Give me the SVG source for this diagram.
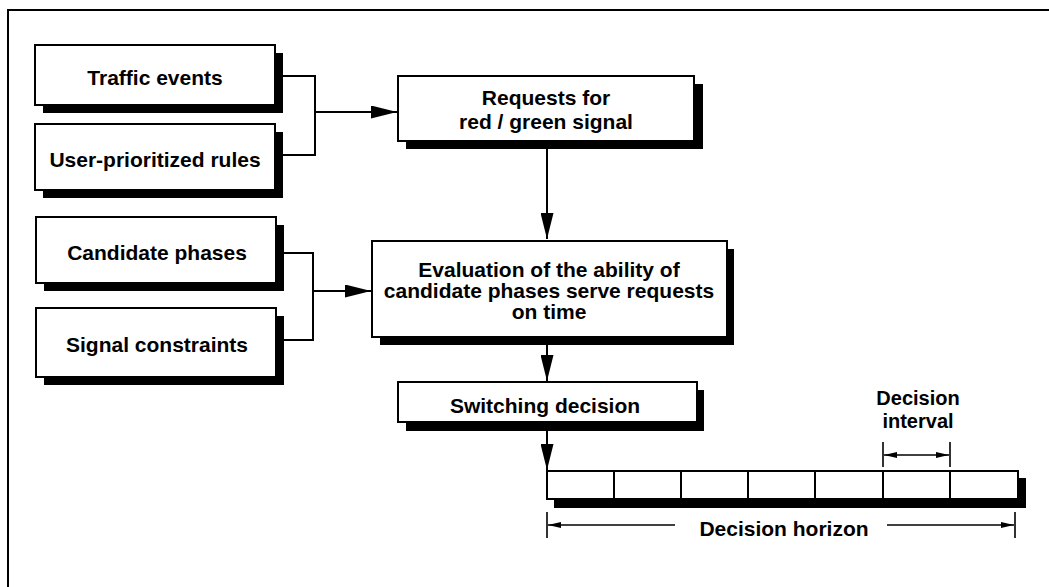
<svg xmlns="http://www.w3.org/2000/svg" width="1049" height="587" viewBox="0 0 1049 587">
  <style>
    .box { fill: #fff; stroke: #000; stroke-width: 2; }
    .shadow { fill: #000; }
    .label { font-family: "Liberation Sans", Arial, sans-serif; font-weight: bold; font-size: 21px; fill: #000; text-anchor: middle; }
    .small { font-size: 20px; }
    .line { fill: none; stroke: #000; stroke-width: 2; }
    .thin { fill: none; stroke: #000; stroke-width: 1.6; }
  </style>
  <defs>
    <marker id="arrow" markerUnits="userSpaceOnUse" markerWidth="26" markerHeight="13" viewBox="0 0 26 13" refX="26" refY="6.5" orient="auto">
      <path d="M0,0 L26,6.5 L0,13 Z" fill="#000"/>
    </marker>
    <marker id="tick-arrow" markerUnits="userSpaceOnUse" markerWidth="13" markerHeight="6" viewBox="0 0 13 6" refX="13" refY="3" orient="auto-start-reverse">
      <path d="M0,0 L13,3 L0,6 Z" fill="#000"/>
    </marker>
  </defs>

  <rect x="0" y="0" width="1049" height="587" fill="#fff"/>

  <!-- outer frame: top and left rules only -->
  <path d="M8,587 V10 H1049" class="line"/>

  <g id="traffic-events">
    <rect class="shadow" x="43" y="53" width="240" height="60"/>
    <rect class="box" x="35" y="45" width="240" height="60"/>
    <text class="label" x="155" y="85">Traffic events</text>
  </g>

  <g id="user-rules">
    <rect class="shadow" x="43" y="132" width="240" height="66"/>
    <rect class="box" x="35" y="124" width="240" height="66"/>
    <text class="label" x="155" y="167">User-prioritized rules</text>
  </g>

  <g id="candidate-phases">
    <rect class="shadow" x="44" y="225" width="240" height="66"/>
    <rect class="box" x="36" y="217" width="240" height="66"/>
    <text class="label" x="157" y="260">Candidate phases</text>
  </g>

  <g id="signal-constraints">
    <rect class="shadow" x="44" y="316" width="240" height="69"/>
    <rect class="box" x="36" y="308" width="240" height="69"/>
    <text class="label" x="157" y="352">Signal constraints</text>
  </g>

  <g id="requests">
    <rect class="shadow" x="406" y="84" width="297" height="65"/>
    <rect class="box" x="398" y="76" width="296" height="65"/>
    <text class="label" x="546" y="105">Requests for</text>
    <text class="label" x="546" y="129">red / green signal</text>
  </g>

  <g id="evaluation">
    <rect class="shadow" x="380" y="249" width="354" height="96"/>
    <rect class="box" x="372" y="241" width="355" height="96"/>
    <text class="label" x="549" y="277">Evaluation of the ability of</text>
    <text class="label" x="549" y="298">candidate phases serve requests</text>
    <text class="label" x="549" y="319">on time</text>
  </g>

  <g id="switching-decision">
    <rect class="shadow" x="406" y="390" width="298" height="41"/>
    <rect class="box" x="398" y="382" width="299" height="40"/>
    <text class="label" x="545" y="413">Switching decision</text>
  </g>

  <g id="timeline">
    <rect class="shadow" x="554" y="478" width="472" height="30"/>
    <rect class="box" x="547" y="471" width="471" height="28"/>
    <path class="line" d="M614,471 V499 M681,471 V499 M748,471 V499 M815,471 V499 M883,471 V499 M950,471 V499"/>
  </g>

  <g id="decision-interval">
    <text class="label small" x="918" y="405">Decision</text>
    <text class="label small" x="918" y="428">interval</text>
    <path class="thin" d="M883,442 V467 M950,442 V467"/>
    <path class="thin" d="M884,455 H949" marker-start="url(#tick-arrow)" marker-end="url(#tick-arrow)"/>
  </g>

  <g id="decision-horizon">
    <text class="label" x="784" y="536">Decision horizon</text>
    <path class="thin" d="M547,512 V538 M1015,512 V538"/>
    <path class="thin" d="M675,525 H548" marker-end="url(#tick-arrow)"/>
    <path class="thin" d="M887,525 H1014" marker-end="url(#tick-arrow)"/>
  </g>

  <g id="connectors">
    <path class="line" d="M283,76 H315 V155 H283"/>
    <path class="line" d="M315,112 H397" marker-end="url(#arrow)"/>
    <path class="line" d="M547,149 V239" marker-end="url(#arrow)"/>
    <path class="line" d="M284,253 H313 V340 H284"/>
    <path class="line" d="M313,291 H371" marker-end="url(#arrow)"/>
    <path class="line" d="M547,345 V381" marker-end="url(#arrow)"/>
    <path class="line" d="M547,431 V470" marker-end="url(#arrow)"/>
  </g>
</svg>
